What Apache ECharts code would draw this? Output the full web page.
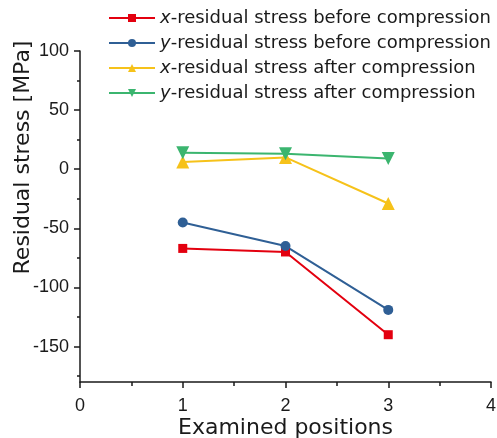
<!DOCTYPE html>
<html>
<head>
<meta charset="utf-8">
<script src="https://cdn.jsdelivr.net/npm/echarts@6/dist/echarts.min.js"></script>
<style>
    html, body { margin: 0; padding: 0; background: #fff; }
    #chart { width: 497px; height: 438px; }
</style>
</head>
<body>
<div id="chart"></div>
<script>
    // positions on the x axis
    const positions = [1, 2, 3];
    // residual stress values, MPa
    const xBefore = [-67, -70, -140];
    const yBefore = [-45, -65, -119];
    const xAfter = [6, 10, -29];
    const yAfter = [14, 13, 9];
    // tick labels
    const yTicks = [-150, -100, -50, 0, 50, 100];
    const yMinorTicks = [-175, -125, -75, -25, 25, 75];
    const seriesNames = [
        'x-residual stress before compression',
        'y-residual stress before compression',
        'x-residual stress after compression',
        'y-residual stress after compression'
    ];

    const font = 'Liberation Sans, Arial, sans-serif';
    const wideFont = 'DejaVu Sans, sans-serif';
    const ink = '#1a1a1a';
    const pairs = vals => positions.map((p, i) => [p, vals[i]]);

    const myChart = echarts.init(document.getElementById('chart'), null, { renderer: 'canvas' });

    const makeSeries = (name, vals, color, symbol, size, rotate) => ({
        name: name,
        type: 'line',
        data: pairs(vals),
        symbol: symbol,
        symbolSize: size,
        symbolRotate: rotate || 0,
        showSymbol: true,
        lineStyle: { color: color, width: 2 },
        itemStyle: { color: color },
        emphasis: { disabled: true },
        z: 3
    });

    const option = {
        animation: false,
        textStyle: { fontFamily: font },
        legend: {
            orient: 'vertical',
            left: 103,
            top: 4,
            itemWidth: 46,
            itemHeight: 10,
            itemGap: 7,
            selectedMode: false,
            formatter: name => '{i|' + name[0] + '}' + name.slice(1),
            textStyle: {
                fontFamily: wideFont,
                fontSize: 18,
                color: ink,
                lineHeight: 18,
                rich: {
                    i: { fontStyle: 'italic', fontSize: 18, fontFamily: wideFont, color: ink }
                }
            }
        },
        grid: { left: 80, right: 6, top: 51, bottom: 56, containLabel: false, outerBoundsMode: 'none' },
        xAxis: {
            type: 'value',
            min: 0,
            max: 4,
            interval: 1,
            name: 'Examined positions',
            nameLocation: 'middle',
            nameGap: 35,
            nameMoveOverlap: false,
            nameTextStyle: { fontSize: 22, color: ink, fontFamily: wideFont },
            axisLine: { show: true, onZero: false, lineStyle: { color: ink, width: 1.5 } },
            axisTick: { show: true, inside: false, length: 6, lineStyle: { color: ink, width: 1.5 } },
            minorTick: { show: true, splitNumber: 2, length: 4, lineStyle: { color: ink, width: 1.5 } },
            axisLabel: { fontSize: 18, color: ink, margin: 15, fontFamily: font },
            splitLine: { show: false }
        },
        yAxis: [{
            type: 'value',
            min: -180,
            max: 100,
            name: 'Residual stress [MPa]',
            nameLocation: 'middle',
            nameGap: 46,
            nameMoveOverlap: false,
            nameTextStyle: { fontSize: 22, color: ink, fontFamily: wideFont, padding: [0, 0, 0, 118] },
            axisLine: { show: true, onZero: false, lineStyle: { color: ink, width: 1.5 } },
            axisTick: { show: true, inside: false, length: 6, customValues: yTicks, lineStyle: { color: ink, width: 1.5 } },
            axisLabel: { customValues: yTicks, fontSize: 18, color: ink, margin: 11, fontFamily: font },
            splitLine: { show: false }
        }, {
            // minor ticks only
            type: 'value',
            min: -180,
            max: 100,
            position: 'left',
            axisLine: { show: false },
            axisTick: { show: true, inside: false, length: 3, customValues: yMinorTicks, lineStyle: { color: ink, width: 1.5 } },
            axisLabel: { show: false },
            splitLine: { show: false }
        }],
        series: [
            makeSeries(seriesNames[0], xBefore, '#e3000f', 'rect', 9),
            makeSeries(seriesNames[1], yBefore, '#2f5f95', 'circle', 10),
            makeSeries(seriesNames[2], xAfter, '#f6c21a', 'triangle', 13),
            makeSeries(seriesNames[3], yAfter, '#3bb56f', 'triangle', 13, 180)
        ]
    };

    option && myChart.setOption(option);
</script>
</body>
</html>
